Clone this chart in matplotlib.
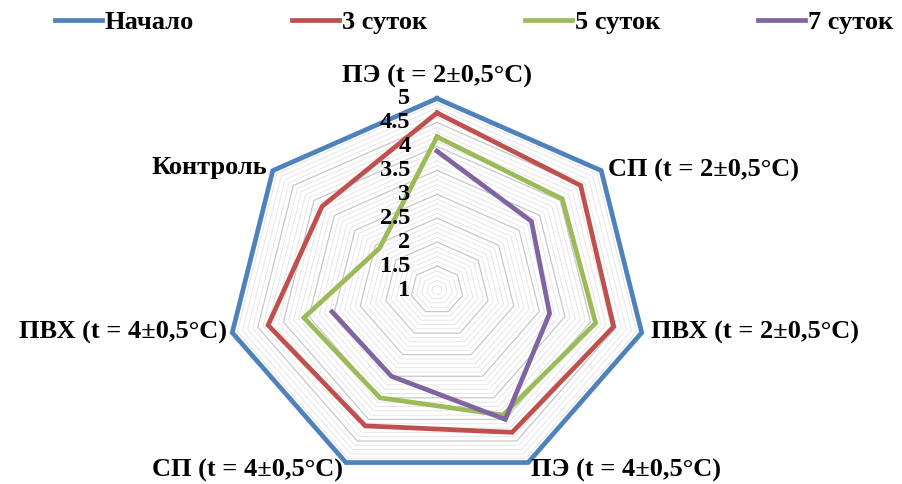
import numpy as np
from matplotlib import pyplot as plt
from matplotlib.lines import Line2D

plt.rcParams['font.family'] = ['Liberation Serif', 'DejaVu Serif']
plt.rcParams['font.weight'] = 'bold'

categories = ['ПЭ (t = 2±0,5°C)', 'СП (t = 2±0,5°C)', 'ПВХ (t = 2±0,5°C)',
              'ПЭ (t = 4±0,5°C)', 'СП (t = 4±0,5°C)', 'ПВХ (t = 4±0,5°C)',
              'Контроль']
series_names = ['Начало', '3 суток', '5 суток', '7 суток']
nachalo = [5, 5, 5, 5, 5, 5, 5]
sutok3 = [4.7, 4.5, 4.45, 4.3, 4.15, 4.3, 3.8]
sutok5 = [4.2, 4.05, 4.1, 3.9, 3.5, 3.6, 2.4]
sutok7 = [3.9, 3.3, 3.2, 4.0, 3.0, 3.05, np.nan]
tick_values = [1, 1.5, 2, 2.5, 3, 3.5, 4, 4.5, 5]
tick_labels = ['1', '1.5', '2', '2.5', '3', '3.5', '4', '4.5', '5']

colors = ['#4F81BD', '#C0504D', '#9BBB59', '#8064A2']

fig = plt.figure(figsize=(9.02, 4.84), dpi=100)
ax = fig.add_axes([227/902, 2.5/484, 420/902, 383/484], projection='polar')
ax.set_aspect('auto')
ax.set_theta_zero_location('N')
ax.set_theta_direction(-1)
ax.set_ylim(1, 5)

n = len(categories)
theta = np.arange(n) * 2*np.pi/n
theta_c = np.append(theta, theta[0])

# heptagon grid
for lev in np.arange(1.1, 5.001, 0.1):
    major = abs(lev*2 - round(lev*2)) < 1e-6
    ax.plot(theta_c, [lev]*(n+1), color='#C8C8C8' if major else '#E6E6E6',
            lw=0.9 if major else 0.7, zorder=1, clip_on=False)

ax.grid(False)
ax.set_xticks([])
ax.set_yticks([])
ax.spines['polar'].set_visible(False)
ax.patch.set_visible(False)

for vals, c in zip([nachalo, sutok3, sutok5, sutok7], colors):
    v = np.append(vals, vals[0])
    ax.plot(theta_c, v, color=c, lw=3.4, zorder=3, clip_on=False,
            solid_joinstyle='miter')

# radial tick labels
for v, t in zip(tick_values, tick_labels):
    ax.annotate(t, xy=(0, v), xytext=(-19, 0), textcoords='offset points',
                ha='right', va='center', fontsize=17.5, annotation_clip=False)

# category labels
offsets = [(0, 16, 'center', 'center'), (5, 0, 'left', 'center'),
           (7, 0, 'left', 'center'), (2, -6, 'left', 'center'),
           (-2, -6, 'right', 'center'), (-4, 0, 'right', 'center'),
           (-4, 2, 'right', 'center')]
for th, lab, (dx, dy, ha, va) in zip(theta, categories, offsets):
    ax.annotate(lab, xy=(th, 5), xytext=(dx, dy), textcoords='offset points',
                ha=ha, va=va, fontsize=19, annotation_clip=False)

handles = [Line2D([], [], color=c, lw=3.4) for c in colors]
fig.legend(handles, series_names, loc='upper left', bbox_to_anchor=(44/902, 1.0),
           ncol=4, frameon=False, fontsize=19, handlelength=1.8,
           handletextpad=0.1, columnspacing=3.7, borderaxespad=0.3,
           borderpad=0.1)

plt.savefig('out.png', dpi=100)
